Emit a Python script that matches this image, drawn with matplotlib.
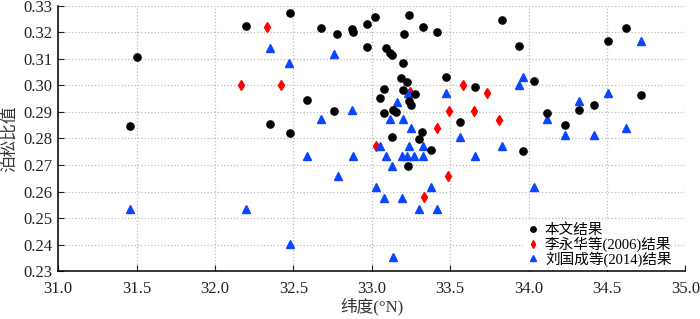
import matplotlib.pyplot as plt
from matplotlib.font_manager import FontProperties

plt.rcParams['font.family'] = 'Liberation Serif'
cjk = ['Liberation Serif', 'Noto Sans CJK SC']

# 本文结果
x_bw = [31.50, 31.458, 32.20, 32.35, 32.477, 32.678, 32.78, 32.876, 32.883, 32.972,
        33.023, 33.236, 33.208, 33.325, 33.414, 32.972, 33.089, 33.117, 33.13, 33.198,
        33.189, 33.227, 33.079, 33.198, 33.274, 33.055, 33.236, 33.253, 32.587, 32.757,
        33.136, 33.157, 33.081, 32.477, 33.128, 33.323, 33.302, 33.376, 33.231, 33.474,
        33.661, 33.566, 33.83, 33.938, 34.038, 33.964, 34.119, 34.234, 34.319, 34.417,
        34.506, 34.619, 34.715]
y_bw = [0.3108, 0.2847, 0.3225, 0.2856, 0.3272, 0.3217, 0.3192, 0.3212, 0.3202, 0.3230,
        0.3258, 0.3267, 0.3194, 0.3221, 0.3201, 0.3144, 0.3140, 0.3123, 0.3115, 0.3085,
        0.3027, 0.3012, 0.2988, 0.2984, 0.2967, 0.2951, 0.2940, 0.2926, 0.2945, 0.2904,
        0.2909, 0.2899, 0.2894, 0.2822, 0.2806, 0.2826, 0.2798, 0.2758, 0.2696, 0.3032,
        0.2993, 0.2861, 0.3246, 0.3147, 0.3015, 0.2752, 0.2894, 0.2852, 0.2908, 0.2925,
        0.3166, 0.3218, 0.2964]

# 李永华等(2006)结果
x_li = [32.168, 32.33, 32.419, 33.244, 33.582, 33.733, 33.492, 33.655, 33.815, 33.414,
        33.030, 33.485, 33.332]
y_li = [0.3001, 0.3221, 0.3001, 0.2974, 0.3001, 0.2971, 0.2902, 0.2902, 0.2871, 0.2840,
        0.2771, 0.2660, 0.2579]

# 刘国成等(2014)结果
x_liu = [32.35, 32.474, 32.757, 33.234, 33.159, 33.474, 32.678, 32.876, 33.117, 33.20,
         33.253, 33.566, 33.055, 33.236, 33.325, 33.83, 32.587, 32.883, 33.091, 33.196,
         33.225, 33.272, 33.325, 33.661, 33.128, 32.783, 33.025, 33.376, 33.081, 33.191,
         33.304, 33.414, 32.477, 33.134, 31.46, 32.20, 34.038, 33.964, 33.938, 34.319,
         34.506, 34.119, 34.234, 34.417, 34.619, 34.715]
y_liu = [0.3142, 0.3086, 0.3117, 0.2970, 0.2939, 0.2970, 0.2874, 0.2906, 0.2874, 0.2874,
         0.2840, 0.2806, 0.2771, 0.2771, 0.2771, 0.2771, 0.2734, 0.2734, 0.2734, 0.2734,
         0.2734, 0.2734, 0.2734, 0.2734, 0.2696, 0.2658, 0.2617, 0.2617, 0.2577, 0.2577,
         0.2535, 0.2535, 0.2402, 0.2355, 0.2535, 0.2535, 0.2617, 0.3030, 0.3001, 0.2940,
         0.2970, 0.2874, 0.2813, 0.2813, 0.2841, 0.3169]

xticks = [31.0, 31.5, 32.0, 32.5, 33.0, 33.5, 34.0, 34.5, 35.0]
yticks = [0.23, 0.24, 0.25, 0.26, 0.27, 0.28, 0.29, 0.30, 0.31, 0.32, 0.33]

fig = plt.figure(figsize=(7, 3.19), dpi=100)
ax = fig.add_axes([0.083, 0.150, 0.896, 0.832])

ax.plot(x_bw, y_bw, 'o', color='black', markersize=5.2, zorder=4, label='本文结果')
ax.plot(x_li, y_li, 'd', color='#ff0000', markersize=5, zorder=2, label='李永华等(2006)结果')
ax.plot(x_liu, y_liu, '^', color='#0a46ff', markersize=5.5, zorder=3, label='刘国成等(2014)结果')

ax.set_xlim(31.0, 35.0)
ax.set_ylim(0.23, 0.33)
ax.set_xticks(xticks)
ax.set_yticks(yticks)
ax.set_xticklabels(['%.1f' % v for v in xticks])
ax.set_yticklabels(['%.2f' % v for v in yticks])
ax.tick_params(direction='in', length=4, labelsize=12, colors='#222222')
ax.tick_params(axis='x', pad=7)
ax.tick_params(axis='y', pad=4)

ax.grid(True, linestyle=':', color='#bbbbbb', linewidth=0.9)
ax.spines['top'].set_visible(False)
ax.spines['right'].set_visible(False)
for s in ['left', 'bottom']:
    ax.spines[s].set_linewidth(1.1)

ax.set_xlabel('纬度(°N)', fontsize=12, color='#333333', labelpad=1, family=cjk)
ax.set_ylabel('泊松比值', fontsize=12, color='#333333', labelpad=4, family=cjk)

leg = ax.legend(loc='lower right', bbox_to_anchor=(0.985, 0.0), prop=FontProperties(family=cjk, size=10.5),
                frameon=True, handletextpad=0.3, borderpad=0.2, labelspacing=-0.05, handlelength=1.0,
                markerscale=0.75, borderaxespad=0.1, fancybox=False)
leg.get_frame().set_edgecolor('none')
leg.get_frame().set_facecolor('white')
leg.get_frame().set_alpha(1)

fig.savefig('out.png', dpi=100)
